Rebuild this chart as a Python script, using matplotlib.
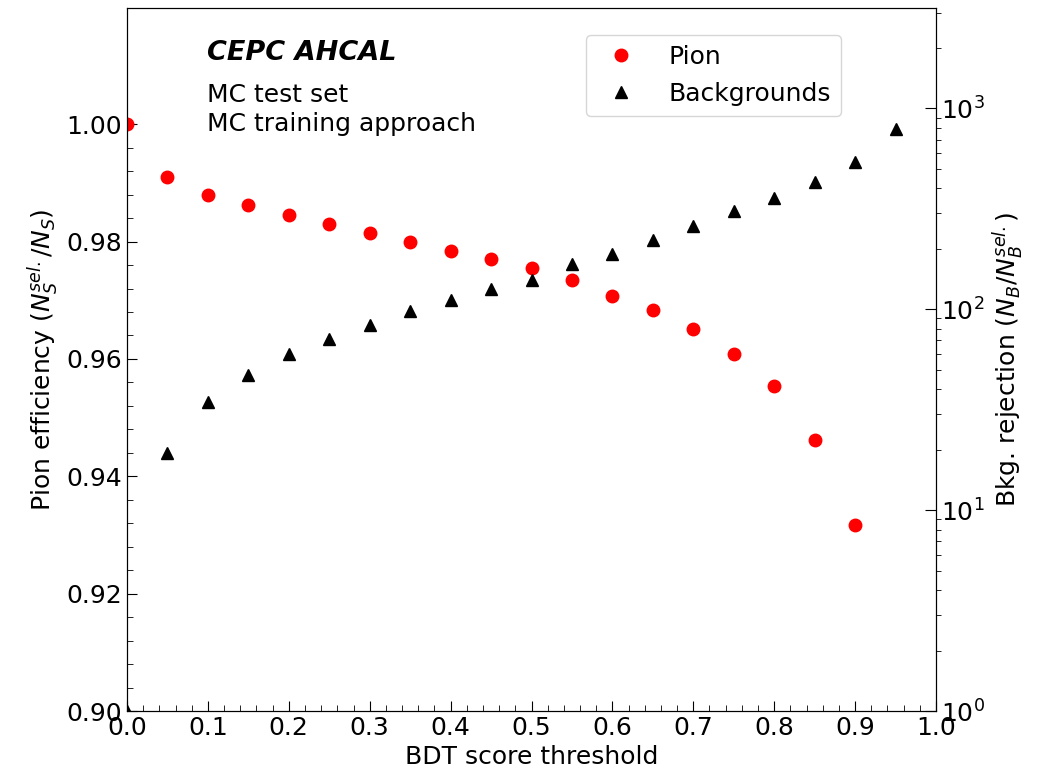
import numpy as np
import matplotlib
matplotlib.use("Agg")
import matplotlib.pyplot as plt
from matplotlib.ticker import FixedLocator, MultipleLocator, LogLocator, NullFormatter

# BDT score thresholds
thresholds = [0.0, 0.05, 0.10, 0.15, 0.20, 0.25, 0.30, 0.35, 0.40, 0.45,
              0.50, 0.55, 0.60, 0.65, 0.70, 0.75, 0.80, 0.85, 0.90]
pion_eff = [1.0000, 0.9910, 0.9879, 0.9862, 0.9845, 0.9830, 0.9814, 0.9799,
            0.9784, 0.9770, 0.9755, 0.9734, 0.9707, 0.9683, 0.9651, 0.9608,
            0.9554, 0.9462, 0.9317]

bkg_thresholds = [0.0, 0.05, 0.10, 0.15, 0.20, 0.25, 0.30, 0.35, 0.40, 0.45,
                  0.50, 0.55, 0.60, 0.65, 0.70, 0.75, 0.80, 0.85, 0.90, 0.95]
bkg_rej = [1.0, 19.2, 34.5, 47.0, 59.7, 70.9, 83.3, 97.7, 110.9, 125.8,
           139.4, 167.4, 187.8, 220.5, 258.8, 307.4, 356.8, 428.5, 538.7, 786.6]

fs = 18
fig = plt.figure(figsize=(10.39, 7.72), dpi=100)
ax1 = fig.add_axes([0.1222, 0.079, 0.7787, 0.9106])
ax2 = ax1.twinx()

p1, = ax1.plot(thresholds, pion_eff, "o", color="red", ms=9, label="Pion")
p2, = ax2.plot(bkg_thresholds, bkg_rej, "^", color="black", ms=9, label="Backgrounds")

ax1.set_xlim(0, 1)
ax1.set_ylim(0.90, 1.0198)
ax1.set_yticks(np.arange(0.90, 1.001, 0.02))
ax1.yaxis.set_minor_locator(FixedLocator(np.arange(0.90, 1.0001, 0.004)))
ax1.xaxis.set_major_locator(MultipleLocator(0.1))
ax1.xaxis.set_minor_locator(MultipleLocator(0.02))
ax1.tick_params(which="major", direction="in", length=7, labelsize=fs, top=False, right=False)
ax1.tick_params(which="minor", direction="in", length=4, top=False, right=False)

ax2.set_yscale("log")
ax2.set_ylim(1, 3162)
ax2.yaxis.set_major_locator(LogLocator(base=10, numticks=10))
ax2.yaxis.set_minor_locator(LogLocator(base=10, subs=np.arange(2, 10), numticks=10))
ax2.yaxis.set_minor_formatter(NullFormatter())
ax2.tick_params(which="major", direction="in", length=8, labelsize=fs)
ax2.tick_params(which="minor", direction="out", length=3.5)

ax1.set_xlabel("BDT score threshold", fontsize=fs)
ax1.set_ylabel(r"Pion efficiency ($N_S^{sel.}/N_S$)", fontsize=fs)
ax2.set_ylabel(r"Bkg. rejection ($N_B/N_B^{sel.}$)", fontsize=fs)

ax1.text(0.099, 0.936, "CEPC AHCAL", transform=ax1.transAxes, fontsize=19.5,
         fontweight="bold", fontstyle="italic", va="center")
ax1.text(0.099, 0.876, "MC test set", transform=ax1.transAxes, fontsize=fs, va="center")
ax1.text(0.099, 0.835, "MC training approach", transform=ax1.transAxes, fontsize=fs, va="center")

ax1.legend([p1, p2], ["Pion", "Backgrounds"], loc="upper left",
           bbox_to_anchor=(0.567, 0.9616), borderaxespad=0, fontsize=fs,
           handlelength=2.0, handletextpad=0.9, labelspacing=0.5)

fig.savefig("out.png", dpi=100)
